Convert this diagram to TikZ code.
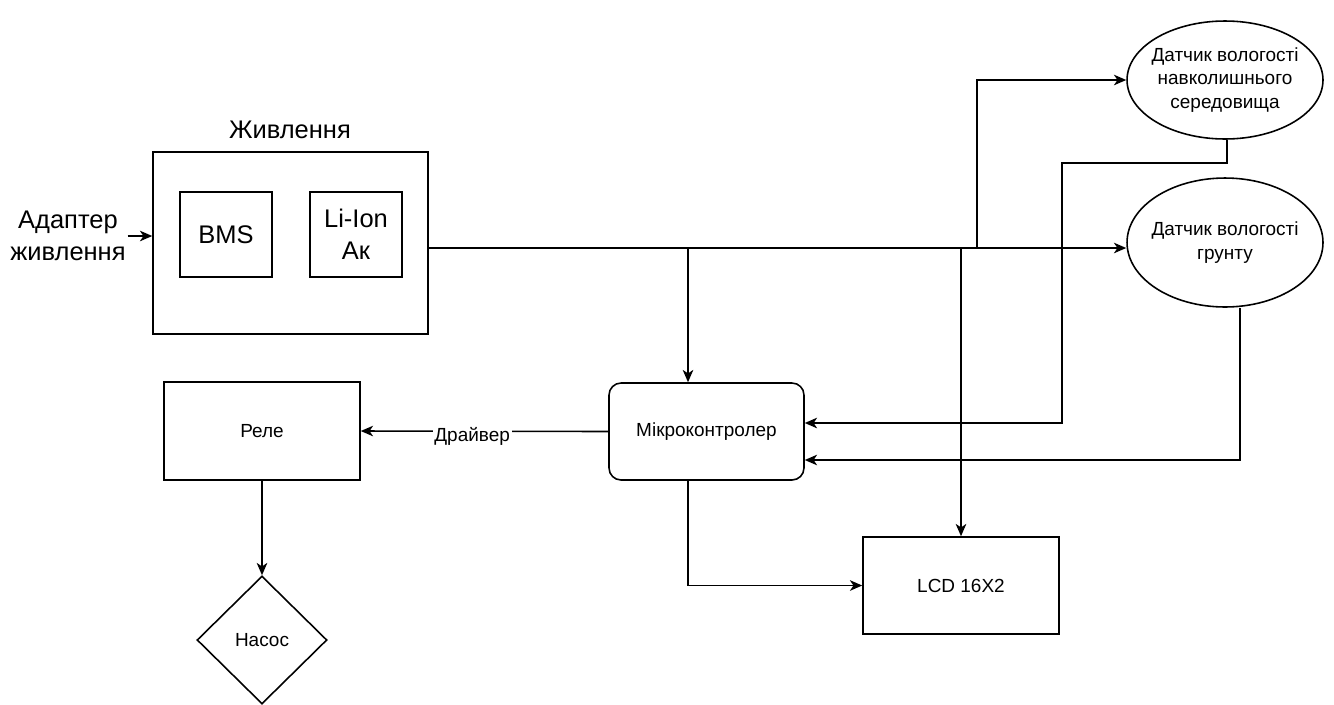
\documentclass[tikz,border=0pt]{standalone}
\usepackage{fontspec}
\setmainfont{Liberation Sans}
\usetikzlibrary{arrows.meta,shapes.geometric}
\newcommand{\bigtxt}{\fontsize{14.5}{18}\selectfont}
\newcommand{\smalltxt}{\fontsize{10.8}{13.6}\selectfont}
\tikzset{
  box/.style={draw, line width=0.9pt, inner sep=0pt, align=center},
  oval/.style={draw, ellipse, line width=0.9pt, inner sep=-6pt, minimum width=3.92cm, align=center, font=\smalltxt},
  arr/.style={line width=0.9pt, -{Stealth[length=7pt,width=6pt,inset=2pt]}},
  wire/.style={line width=0.9pt}
}

\begin{document}
\begin{tikzpicture}[x=0.02cm,y=-0.02cm]
      \useasboundingbox (0,0) rectangle (1334,704);

      % power block with BMS and battery inside
      \node[box, minimum width=5.5cm, minimum height=3.64cm] (power) at (290.5,243) {};
      \node[font=\bigtxt] (powertitle) at (290,130) {Живлення};
      \node[box, minimum width=1.84cm, minimum height=1.7cm, font=\bigtxt] (bms) at (226,234.5) {BMS};
      \node[box, minimum width=1.84cm, minimum height=1.7cm, font=\bigtxt] (liion) at (356,234.5) {Li-Ion\\Ак};
      \node[font=\bigtxt, align=center, inner sep=1pt] (adapter) at (68,236) {Адаптер\\живлення};

      % sensors
      \node[oval, minimum height=2.36cm] (s1) at (1225,80) {Датчик вологості\\навколишнього\\середовища};
      \node[oval, minimum height=2.58cm] (s2) at (1225,242.5) {Датчик вологості\\грунту};

      % controller, relay, pump, display
      \node[box, rounded corners=0.24cm, minimum width=3.9cm, minimum height=1.94cm, font=\smalltxt] (mcu) at (706.5,431.5) {Мікроконтролер};
      \node[box, minimum width=3.92cm, minimum height=1.96cm, font=\smalltxt] (relay) at (262,431) {Реле};
      \node[box, diamond, minimum width=2.6cm, minimum height=2.56cm, font=\smalltxt] (pump) at (262,640) {Насос};
      \node[box, minimum width=3.92cm, minimum height=1.94cm, font=\smalltxt] (lcd) at (961,585.5) {LCD 16X2};

      % supply bus
      \coordinate (bus) at (0,248);
      \draw[arr] (adapter.east) -- (adapter.east -| power.west);
      \draw[arr] (power.east |- bus) -- (s2.west |- bus);
      \draw[arr] (977,248) |- (s1.west);
      \draw[arr] (lcd.north |- bus) -- (lcd.north);
      \draw[arr] ([xshift=-0.37cm]mcu.north |- bus) -- ([xshift=-0.37cm]mcu.north);

      % sensor signals back to the controller
      \draw[arr] ([xshift=0.04cm]s1.south) -- (1227,163) -| (1062,423) -- ([yshift=0.17cm]mcu.east);
      \draw[arr] ([xshift=0.3cm]s2.south) |- ([yshift=-0.57cm]mcu.east);

      % outputs
      \draw[arr] (mcu.west) -- (relay.east) node[pos=0.55, fill=white, inner sep=1pt, font=\smalltxt, yshift=-0.1cm] (drv) {Драйвер};
      \draw[arr] (relay.south) -- (pump.north);
      \draw[arr] ([xshift=-0.37cm]mcu.south) |- (lcd.west);

\end{tikzpicture}
\end{document}
